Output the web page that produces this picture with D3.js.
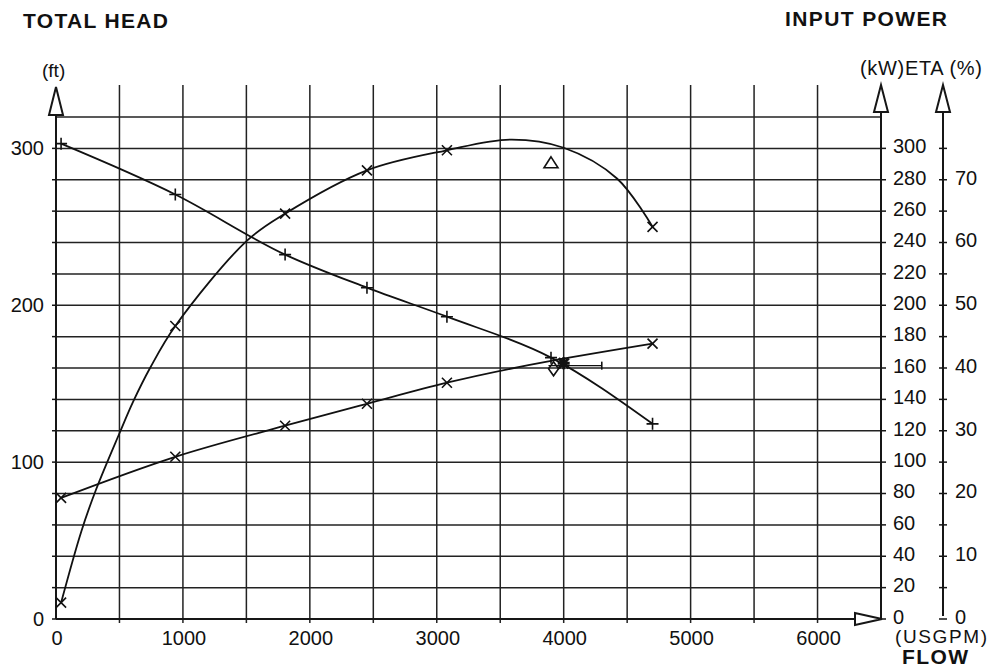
<!DOCTYPE html>
<html><head><meta charset="utf-8">
<script src="https://cdn.jsdelivr.net/npm/d3@7"></script>
<style>body{margin:0;background:#fff}svg{display:block}text{font-family:"Liberation Sans",Arial,sans-serif;fill:#111}</style>
</head><body><svg id="c" width="989" height="669"></svg>
<script>
// ---- data ----
const headFlow = [40, 940, 1805, 2450, 3080, 3900, 4700];
const headFt   = [303, 270.6, 232.3, 211.2, 192.7, 166.6, 124.4];

const powerFlow = [40, 940, 1805, 2450, 3080, 4700];
const powerKW   = [77.2, 103.4, 123.2, 137.2, 150.6, 175.5];

const effMarkFlow = [40, 940, 1805, 2450, 3080, 4700];
const effMarkPct  = [2.6, 46.7, 64.6, 71.5, 74.7, 62.5];
const effCurveFlow = [40, 200, 315, 500, 607, 741, 940, 1505, 1805, 2450, 3080, 3580, 4000, 4420, 4700];
const effCurvePct  = [2.6, 14.0, 20.6, 29.6, 34.6, 40.0, 46.7, 60.3, 64.6, 71.5, 74.7, 76.4, 75.1, 70.2, 62.5];

const dutyFlow = [4000], dutyHead = [163];
const tolFlow = [3880, 4300], tolHead = [161.5, 161.5];
const testEffFlow = [3900], testEffPct = [72.7];
const testPowFlow = [3920], testPowKW = [159.5];

const flowTicks = [0, 1000, 2000, 3000, 4000, 5000, 6000];
const headTicks = [0, 100, 200, 300];
const kwTicks = d3.range(0, 301, 20);
const etaTicks = [0, 10, 20, 30, 40, 50, 60, 70];

// ---- scales ----
const x = d3.scaleLinear().domain([0, 6500]).range([56, 881]);
const yH = d3.scaleLinear().domain([0, 320]).range([619, 117]);
const yK = d3.scaleLinear().domain([0, 320]).range([619, 117]);
const yE = d3.scaleLinear().domain([0, 80]).range([619, 117]);

const svg = d3.select("#c");
const ink = "#161616";
const X0 = x(0), XR = x(6500), XE = 943, Y0 = yH(0), YT = yH(320);

// grid
const g = svg.append("g").attr("stroke", "#222").attr("stroke-width", 1.5);
d3.range(20, 321, 20).forEach(v => g.append("line").attr("x1", X0).attr("x2", XR).attr("y1", yH(v)).attr("y2", yH(v)));
d3.range(500, 6001, 500).forEach(v => g.append("line").attr("x1", x(v)).attr("x2", x(v)).attr("y1", 85).attr("y2", Y0 + 4));

// axes
const a = svg.append("g").attr("stroke", ink).attr("stroke-width", 2).attr("fill", "none");
a.append("line").attr("x1", X0).attr("x2", X0).attr("y1", 115).attr("y2", Y0);
a.append("line").attr("x1", X0).attr("x2", 855).attr("y1", Y0).attr("y2", Y0);
a.append("line").attr("x1", XR).attr("x2", XR).attr("y1", 112).attr("y2", Y0);
a.append("line").attr("x1", XE).attr("x2", XE).attr("y1", 112).attr("y2", Y0 - 3);
a.append("path").attr("fill", "#fff").attr("d", `M${X0},87L${X0-7},115L${X0+7},115Z`);
a.append("path").attr("fill", "#fff").attr("d", `M${XR},85L${XR-7},112L${XR+7},112Z`);
a.append("path").attr("fill", "#fff").attr("d", `M${XE},85L${XE-7},112L${XE+7},112Z`);
a.append("path").attr("fill", "#fff").attr("d", `M${XR+1},${Y0}L855,${Y0-6}L855,${Y0+6}Z`);

const t = svg.append("g").attr("stroke", ink).attr("stroke-width", 1.5);
d3.range(0, 301, 20).forEach(v => t.append("line").attr("x1", X0 - 4).attr("x2", X0).attr("y1", yH(v)).attr("y2", yH(v)));
kwTicks.forEach(v => t.append("line").attr("x1", XR).attr("x2", XR + 5).attr("y1", yK(v)).attr("y2", yK(v)));
d3.range(0, 76, 5).forEach(v => t.append("line").attr("x1", XE - 4).attr("x2", XE + 4).attr("y1", yE(v)).attr("y2", yE(v)));

// tick labels
const fs = "20px";
headTicks.forEach(v => svg.append("text").attr("x", 44).attr("y", yH(v)).attr("dy", "0.34em").attr("text-anchor", "end").attr("font-size", fs).text(v));
flowTicks.forEach(v => svg.append("text").attr("x", x(v) + 1).attr("y", 645).attr("text-anchor", "middle").attr("font-size", fs).text(v));
kwTicks.forEach(v => svg.append("text").attr("x", 893).attr("y", yK(v) - 2).attr("dy", "0.34em").attr("font-size", fs).text(v));
etaTicks.forEach(v => svg.append("text").attr("x", 955).attr("y", yE(v) - 2).attr("dy", "0.34em").attr("font-size", fs).text(v));

// titles
svg.append("text").attr("x", 23).attr("y", 28).attr("font-size", "21px").attr("font-weight", "bold").attr("textLength", 145).text("TOTAL HEAD");
svg.append("text").attr("x", 785).attr("y", 26).attr("font-size", "21px").attr("font-weight", "bold").attr("textLength", 162).text("INPUT POWER");
svg.append("text").attr("x", 42).attr("y", 77).attr("font-size", "19px").text("(ft)");
svg.append("text").attr("x", 860).attr("y", 75).attr("font-size", "20px").attr("textLength", 122).text("(kW)ETA (%)");
svg.append("text").attr("x", 895).attr("y", 643).attr("font-size", "19px").attr("textLength", 92).text("(USGPM)");
svg.append("text").attr("x", 902).attr("y", 664).attr("font-size", "21px").attr("font-weight", "bold").attr("textLength", 66).text("FLOW");

// curves
const c = svg.append("g").attr("fill", "none").attr("stroke", "#111").attr("stroke-width", 1.8);
const line = (ys, cv) => d3.line().x(d => x(d[0])).y(d => ys(d[1])).curve(cv);
c.append("path").attr("d", line(yH, d3.curveMonotoneX)(d3.zip(headFlow, headFt)));
c.append("path").attr("d", line(yK, d3.curveMonotoneX)(d3.zip(powerFlow, powerKW)));
c.append("path").attr("d", line(yE, d3.curveCatmullRom.alpha(0.5))(d3.zip(effCurveFlow, effCurvePct)));

// markers
const m = svg.append("g").attr("fill", "none").attr("stroke", "#111").attr("stroke-width", 1.6);
const plus = (cx, cy, r) => m.append("path").attr("d", `M${cx-r},${cy}L${cx+r},${cy}M${cx},${cy-r}L${cx},${cy+r}`);
const cross = (cx, cy, r) => m.append("path").attr("d", `M${cx-r},${cy-r}L${cx+r},${cy+r}M${cx-r},${cy+r}L${cx+r},${cy-r}`);
headFlow.forEach((f, i) => plus(x(f), yH(headFt[i]), 6));
powerFlow.forEach((f, i) => cross(x(f), yK(powerKW[i]), 5));
effMarkFlow.forEach((f, i) => cross(x(f), yE(effMarkPct[i]), 5));

// test point / duty point
testEffFlow.forEach((f, i) => { const cx = x(f), cy = yE(testEffPct[i]); m.append("path").attr("d", `M${cx},${cy-6}L${cx+7},${cy+5}L${cx-7},${cy+5}Z`); });
testPowFlow.forEach((f, i) => { const cx = x(f), cy = yK(testPowKW[i]); m.append("path").attr("d", `M${cx},${cy-7}L${cx+5},${cy}L${cx},${cy+7}L${cx-5},${cy}Z`); });
m.append("line").attr("stroke-width", 1.3).attr("x1", x(tolFlow[0])).attr("x2", x(tolFlow[1])).attr("y1", yH(tolHead[0])).attr("y2", yH(tolHead[1]));
m.append("line").attr("x1", x(tolFlow[1])).attr("x2", x(tolFlow[1])).attr("y1", yH(tolHead[1]) - 4).attr("y2", yH(tolHead[1]) + 4);
dutyFlow.forEach((f, i) => {
  const cx = x(f), cy = yH(dutyHead[i]);
  m.append("path").attr("stroke-width", 3).attr("d", `M${cx-5},${cy-5}L${cx+5},${cy+5}M${cx-5},${cy+5}L${cx+5},${cy-5}M${cx-6},${cy}L${cx+6},${cy}M${cx},${cy-6}L${cx},${cy+6}`);
});
</script></body></html>
